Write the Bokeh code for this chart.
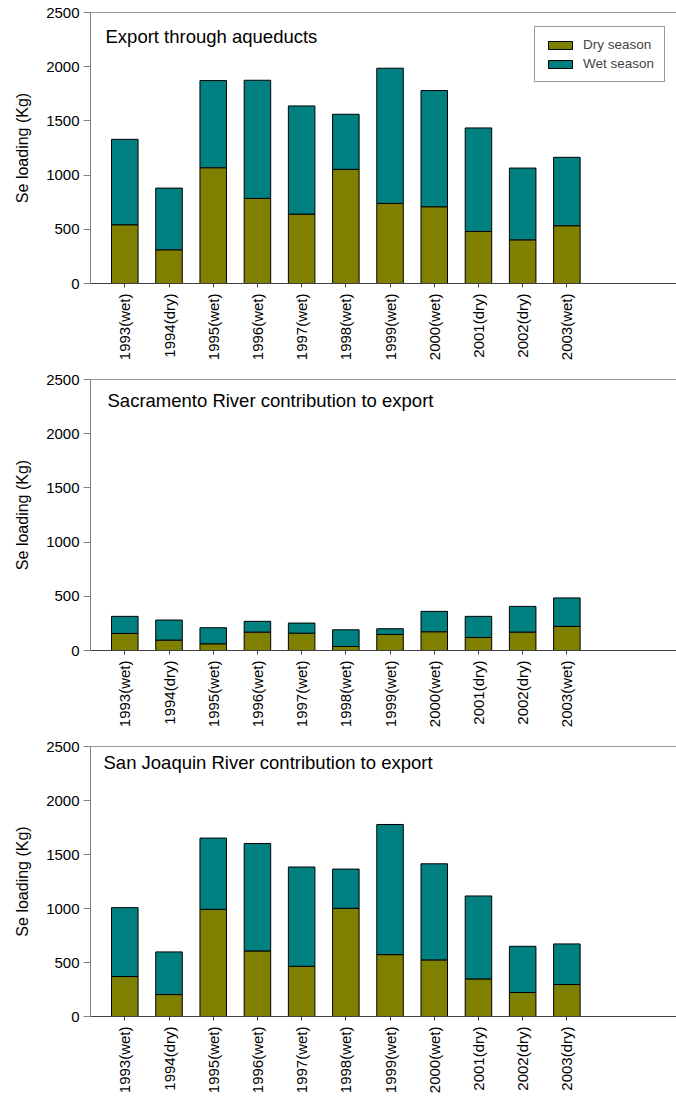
import math
from bokeh.plotting import figure
from bokeh.layouts import column
from bokeh.models import (FixedTicker, Range1d, Span, Label, Legend, LegendItem,
                          ColumnDataSource)
from bokeh.embed import file_html
from bokeh.resources import INLINE

# ---------------- data ----------------
labels_a = ["1993(wet)", "1994(dry)", "1995(wet)", "1996(wet)", "1997(wet)", "1998(wet)",
            "1999(wet)", "2000(wet)", "2001(dry)", "2002(dry)", "2003(wet)"]
labels_c = ["1993(wet)", "1994(dry)", "1995(wet)", "1996(wet)", "1997(wet)", "1998(wet)",
            "1999(wet)", "2000(wet)", "2001(dry)", "2002(dry)", "2003(dry)"]

export_dry = [542, 311, 1068, 785, 640, 1053, 739, 708, 480, 403, 533]
export_total = [1330, 880, 1872, 1875, 1638, 1561, 1986, 1780, 1435, 1065, 1164]

sac_dry = [157, 96, 62, 170, 160, 37, 148, 173, 120, 170, 222]
sac_total = [315, 281, 210, 269, 253, 191, 201, 361, 315, 407, 485]

sjr_dry = [370, 203, 992, 607, 465, 1002, 573, 524, 348, 222, 296]
sjr_total = [1008, 598, 1652, 1602, 1384, 1365, 1778, 1414, 1116, 650, 672]

titles = ["Export through aqueducts",
          "Sacramento River contribution to export",
          "San Joaquin River contribution to export"]

y_ticks = [0, 500, 1000, 1500, 2000, 2500]

DRY = "#808000"
WET = "#008080"
FONT = "Liberation Sans"


def make_panel(title, labels, dry, total, top, bottom, legend=False, tx=15, ty=24):
    n = len(labels)
    frame_h = 271
    height = top + frame_h + bottom
    xs = list(range(1, n + 1))
    src = ColumnDataSource(dict(x=xs, dry=dry, total=total, zero=[0] * n))
    p = figure(width=676, height=height, output_backend="svg", toolbar_location=None,
               x_range=Range1d(0.224, 13.48), y_range=Range1d(0, 2500),
               min_border_left=90, min_border_right=0, min_border_top=top,
               min_border_bottom=bottom)
    p.outline_line_color = None
    p.grid.visible = False
    r_dry = p.vbar(x="x", bottom="zero", top="dry", width=0.6, source=src,
                   fill_color=DRY, line_color="black", line_width=1)
    r_wet = p.vbar(x="x", bottom="dry", top="total", width=0.6, source=src,
                   fill_color=WET, line_color="black", line_width=1)

    p.add_layout(Span(location=2500, dimension="width", line_color="#333333", line_width=1))

    # y axis
    ya = p.yaxis[0]
    ya.ticker = FixedTicker(ticks=y_ticks)
    ya.minor_tick_line_color = None
    ya.major_tick_in = 0
    ya.major_tick_out = 7
    ya.major_label_standoff = 4
    ya.axis_line_color = "#808080"
    ya.major_tick_line_color = "#808080"
    ya.major_label_text_font = FONT
    ya.major_label_text_font_size = "15px"
    ya.major_label_text_color = "black"
    ya.axis_label = "Se loading (Kg)"
    ya.axis_label_text_font = FONT
    ya.axis_label_text_font_size = "16px"
    ya.axis_label_text_font_style = "normal"
    ya.axis_label_text_color = "black"
    ya.axis_label_standoff = 12

    # x axis
    xa = p.xaxis[0]
    xa.ticker = FixedTicker(ticks=xs)
    xa.major_label_overrides = {i + 1: lab for i, lab in enumerate(labels)}
    xa.minor_tick_line_color = None
    xa.major_tick_in = 0
    xa.major_tick_out = 4
    xa.major_label_standoff = 6
    xa.major_label_orientation = math.pi / 2
    xa.axis_line_color = "#404040"
    xa.major_tick_line_color = "#404040"
    xa.major_label_text_font = FONT
    xa.major_label_text_font_size = "15px"
    xa.major_label_text_color = "black"

    p.add_layout(Label(x=tx, y=frame_h - ty, x_units="screen", y_units="screen",
                       text=title, text_font=FONT, text_font_size="18.5px",
                       text_baseline="middle", text_color="black"))

    if legend:
        lg = Legend(items=[LegendItem(label="Dry season", renderers=[r_dry]),
                           LegendItem(label="Wet season", renderers=[r_wet])],
                    location=(444, frame_h - 70),
                    padding=10, spacing=4, label_height=14, glyph_height=10,
                    glyph_width=30, label_standoff=8, margin=0,
                    label_text_font=FONT, label_text_font_size="13.5px",
                    border_line_color="#333333", border_line_width=1,
                    background_fill_alpha=1.0)
        p.add_layout(lg, "center")
    return p


p1 = make_panel(titles[0], labels_a, export_dry, export_total, 12, 86, legend=True, tx=15, ty=24)
p2 = make_panel(titles[1], labels_a, sac_dry, sac_total, 10, 86, tx=17, ty=21)
p3 = make_panel(titles[2], labels_c, sjr_dry, sjr_total, 10, 79, tx=13, ty=17)

layout = column(p1, p2, p3, spacing=0)
open("out.html", "w").write(file_html(layout, INLINE))
